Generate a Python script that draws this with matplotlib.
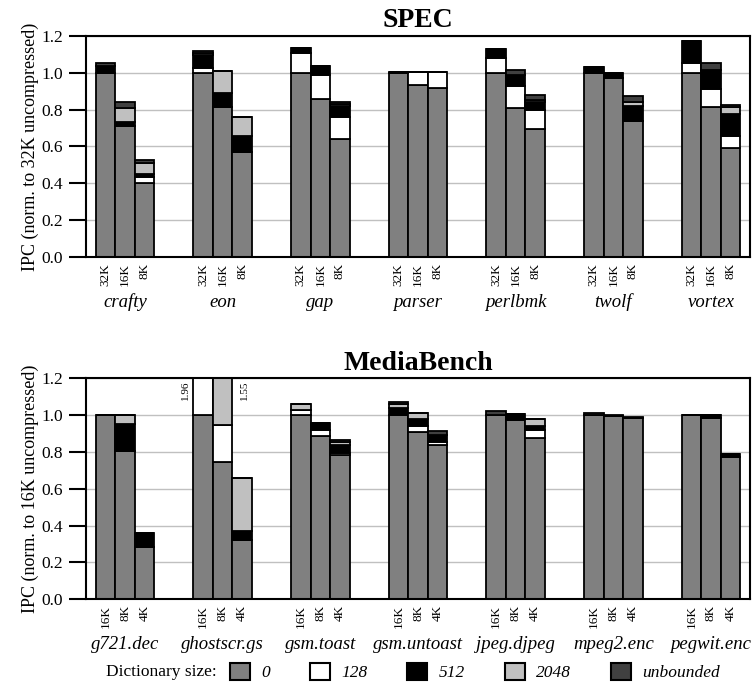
import numpy as np
import matplotlib
matplotlib.use("Agg")
import matplotlib.pyplot as plt
from matplotlib.patches import Patch
from matplotlib.transforms import blended_transform_factory

plt.rcParams['font.family'] = ['Liberation Serif', 'DejaVu Serif']

# ---- data ----
spec_names = ['crafty', 'eon', 'gap', 'parser', 'perlbmk', 'twolf', 'vortex']
spec_sizes = ['32K', '16K', '8K']
spec_0 = [1.00, 0.711, 0.401, 1.00, 0.813, 0.569, 1.00, 0.858, 0.641, 1.00, 0.930, 0.916,
          1.00, 0.807, 0.695, 1.00, 0.973, 0.739, 1.00, 0.813, 0.590]
spec_128 = [0, 0, 0.036, 0.024, 0, 0, 0.105, 0.130, 0.121, 0, 0.072, 0.086,
            0.081, 0.118, 0.103, 0, 0, 0, 0.054, 0.097, 0.064]
spec_512 = [0.036, 0.024, 0.014, 0.072, 0.079, 0.088, 0.027, 0.045, 0.058, 0.005, 0, 0,
            0.046, 0.063, 0.045, 0.029, 0.024, 0.081, 0.118, 0.105, 0.121]
spec_2048 = [0, 0.072, 0.058, 0.009, 0.117, 0.100, 0, 0, 0.008, 0, 0, 0,
             0, 0, 0.008, 0, 0, 0.023, 0, 0, 0.041]
spec_unb = [0.015, 0.036, 0.018, 0.009, 0, 0, 0, 0, 0.015, 0, 0, 0,
            0, 0.027, 0.028, 0, 0, 0.031, 0, 0.036, 0.009]

mb_names = ['g721.dec', 'ghostscr.gs', 'gsm.toast', 'gsm.untoast', 'jpeg.djpeg', 'mpeg2.enc', 'pegwit.enc']
mb_sizes = ['16K', '8K', '4K']
mb_0 = [1.00, 0.802, 0.281, 1.00, 0.744, 0.323, 1.00, 0.886, 0.780, 1.00, 0.907, 0.835,
        1.00, 0.973, 0.877, 1.00, 0.993, 0.985, 1.00, 0.982, 0.773]
mb_128 = [0, 0, 0, 0.96, 0.202, 0, 0.025, 0.032, 0.011, 0, 0.031, 0.018,
          0, 0, 0.041, 0, 0, 0, 0, 0, 0]
mb_512 = [0, 0.147, 0.078, 0, 0, 0.049, 0, 0.040, 0.045, 0.040, 0.038, 0.036,
          0, 0.032, 0.022, 0, 0, 0, 0, 0.016, 0.013]
mb_2048 = [0, 0.051, 0, 0, 0.604, 0.287, 0.033, 0, 0.017, 0.018, 0.033, 0,
           0, 0, 0.040, 0, 0, 0, 0, 0, 0]
mb_unb = [0, 0, 0, 0, 0, 0, 0, 0, 0.011, 0.012, 0, 0.022,
          0.022, 0, 0, 0.008, 0.004, 0.003, 0, 0, 0]

dict_labels = ['0', '128', '512', '2048', 'unbounded']
dict_colors = ['#808080', '#ffffff', '#000000', '#c0c0c0', '#404040']


def draw(ax, names, sizes, layers, title, ylabel):
    n = len(sizes)
    x = np.array([g * 5 + j for g in range(len(names)) for j in range(n)], dtype=float)
    bottom = np.zeros(len(x))
    for vals, col in zip(layers, dict_colors):
        vals = np.array(vals)
        ax.bar(x, vals, 1.0, bottom=bottom, color=col, edgecolor='black', linewidth=1.3, zorder=2)
        bottom += vals
    ax.set_xlim(-1, 33)
    ax.set_ylim(0, 1.2)
    ax.set_yticks(np.arange(0, 1.21, 0.2))
    ax.set_yticklabels(['%.1f' % v for v in np.arange(0, 1.21, 0.2)])
    ax.yaxis.grid(True, color='#c0c0c0', lw=1.0)
    ax.set_axisbelow(True)
    ax.set_xticks(x)
    ax.set_xticklabels(sizes * len(names), rotation=90, fontsize=9.5)
    ax.tick_params(axis='x', length=0, pad=4)
    ax.tick_params(axis='y', direction='out', length=12.5, width=1.5, pad=4, labelsize=12.5)
    for s in ax.spines.values():
        s.set_linewidth(1.5)
    trans = blended_transform_factory(ax.transData, ax.transAxes)
    for g, name in enumerate(names):
        ax.text(g * 5 + 1, -0.203, name, transform=trans, ha='center', va='center',
                fontsize=13.5, style='italic')
    ax.set_title(title, fontsize=20, fontweight='bold', pad=6)
    ax.set_ylabel(ylabel, fontsize=13, labelpad=2)


fig = plt.figure(figsize=(7.54, 6.86), dpi=100)
ax1 = fig.add_axes([86 / 754, 1 - 257.3 / 686, 664 / 754, 221.7 / 686])
ax2 = fig.add_axes([86 / 754, 1 - 599.3 / 686, 664 / 754, 221.3 / 686])

draw(ax1, spec_names, spec_sizes, [spec_0, spec_128, spec_512, spec_2048, spec_unb],
     'SPEC', 'IPC (norm. to 32K uncompressed)')
draw(ax2, mb_names, mb_sizes, [mb_0, mb_128, mb_512, mb_2048, mb_unb],
     'MediaBench', 'IPC (norm. to 16K uncompressed)')

# off-scale totals for ghostscr.gs
gs_tot = np.array(mb_0) + np.array(mb_128) + np.array(mb_512) + np.array(mb_2048) + np.array(mb_unb)
ax2.text(4.3, 1.185, '%.2f' % gs_tot[3], rotation=90, ha='right', va='top', fontsize=8)
ax2.text(6.86, 1.185, '%.2f' % gs_tot[4], rotation=90, ha='left', va='top', fontsize=8)

handles = [Patch(facecolor=c, edgecolor='black', linewidth=1.5) for c in dict_colors]
fig.text(217 / 754, 1 - 672 / 686, 'Dictionary size:', ha='right', va='center', fontsize=12.5)
fig.legend(handles, dict_labels, ncol=5, loc='center left',
           bbox_to_anchor=(230 / 754, 1 - 672 / 686), frameon=False,
           prop={'style': 'italic', 'size': 12.5}, handlelength=1.15, handleheight=1.15,
           handletextpad=0.65, columnspacing=2.3, borderpad=0, borderaxespad=0)

fig.savefig('out.png', dpi=100)
